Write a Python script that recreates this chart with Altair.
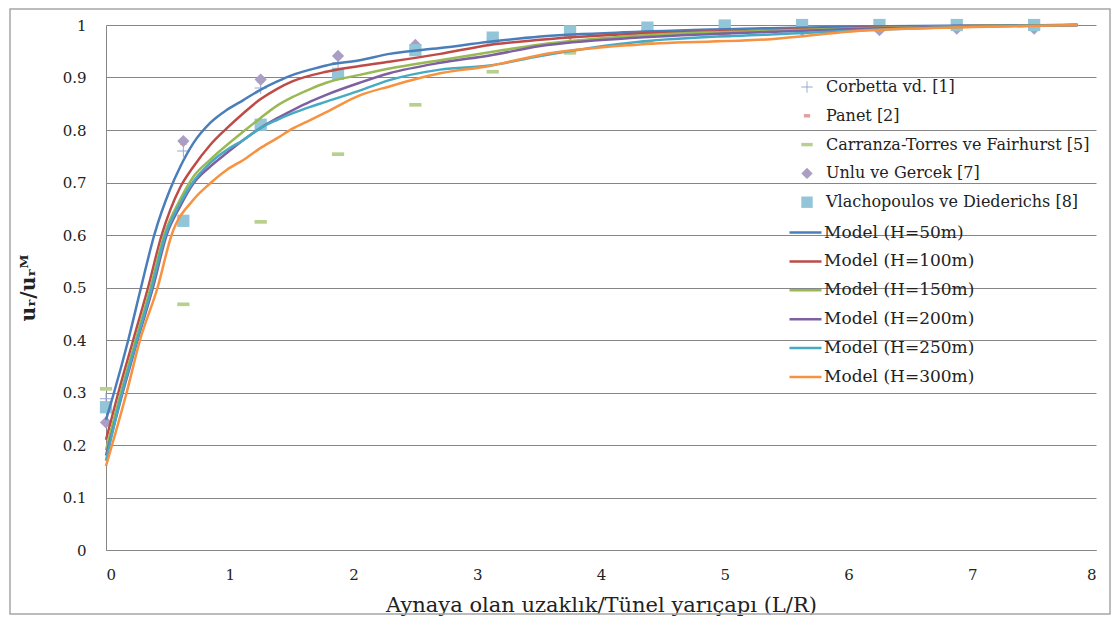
import altair as alt
import pandas as pd

FONT = "DejaVu Serif"

# ---- measured / reference data ----
ref_x = [0, 0.625, 1.25, 1.875, 2.5, 3.125, 3.75, 4.375, 5, 5.625, 6.25, 6.875, 7.5]
corbetta = [0.288, 0.76, 0.88, 0.928, 0.955, 0.975, 0.985, 0.99, 0.995, 0.997, 0.998, 0.999, 1.0]
panet = [0.275, 0.775, 0.893, 0.94, 0.96, 0.975, 0.985, 0.99, 0.995, 0.997, 0.998, 0.999, 1.0]
carranza = [0.307, 0.468, 0.625, 0.754, 0.848, 0.911, 0.947, 0.968, 0.98, 0.988, 0.993, 0.996, 0.998]
unlu = [0.243, 0.779, 0.896, 0.941, 0.962, 0.975, 0.982, 0.987, 0.99, 0.99, 0.99, 0.993, 0.993]
vlach = [0.272, 0.627, 0.81, 0.907, 0.952, 0.976, 0.988, 0.995, 0.999, 1.0, 1.0, 1.0, 1.0]

ref_names = ["Corbetta vd. [1]", "Panet [2]", "Carranza-Torres ve Fairhurst [5]",
             "Unlu ve Gercek [7]", "Vlachopoulos ve Diederichs [8]"]
ref_colors = ["#95a7d6", "#e0a09e", "#b8d08e", "#ab9ec4", "#92c5d8"]
ref_shapes = [
    "M-1,-0.08H1V0.08H-1Z M-0.08,-1H0.08V1H-0.08Z",
    "M-0.55,-0.3H0.55V0.3H-0.55Z",
    "M-1,-0.3H1V0.3H-1Z",
    "diamond",
    "square",
]

# ---- model curves ----
h50_x = [0, 0.065, 0.18, 0.283, 0.39, 0.52, 0.60, 0.706, 0.84, 0.975, 1.11, 1.244, 1.38, 1.51, 1.65, 1.78, 2.05, 2.29, 2.70, 3.10, 3.51, 4.31, 5.37, 6.1, 7.0, 7.85]
h50_y = [0.248, 0.30, 0.40, 0.50, 0.60, 0.688, 0.73, 0.775, 0.813, 0.838, 0.857, 0.876, 0.892, 0.905, 0.915, 0.923, 0.933, 0.945, 0.956, 0.968, 0.978, 0.987, 0.994, 0.997, 0.999, 1.0]

h100_x = [0, 0.10, 0.22, 0.34, 0.45, 0.598, 0.706, 0.84, 0.975, 1.11, 1.244, 1.38, 1.51, 1.78, 2.05, 2.29, 2.70, 3.10, 3.51, 4.31, 5.37, 6.1, 7.0, 7.85]
h100_y = [0.21, 0.30, 0.40, 0.50, 0.60, 0.69, 0.73, 0.771, 0.803, 0.832, 0.858, 0.878, 0.893, 0.911, 0.922, 0.93, 0.945, 0.962, 0.972, 0.984, 0.99, 0.995, 0.998, 1.0]

h150_x = [0, 0.12, 0.24, 0.36, 0.47, 0.598, 0.706, 0.84, 0.975, 1.11, 1.244, 1.38, 1.51, 1.65, 1.78, 2.05, 2.29, 2.70, 3.10, 3.51, 4.31, 5.37, 6.1, 7.0, 7.85]
h150_y = [0.19, 0.30, 0.40, 0.50, 0.60, 0.667, 0.711, 0.743, 0.771, 0.797, 0.822, 0.846, 0.863, 0.878, 0.89, 0.905, 0.917, 0.933, 0.948, 0.963, 0.98, 0.989, 0.994, 0.998, 1.0]

h200_x = [0, 0.135, 0.255, 0.38, 0.49, 0.598, 0.706, 0.84, 0.975, 1.11, 1.244, 1.38, 1.51, 1.65, 1.78, 2.05, 2.29, 2.70, 3.10, 3.51, 4.31, 5.37, 6.1, 7.0, 7.85]
h200_y = [0.18, 0.30, 0.40, 0.50, 0.60, 0.654, 0.698, 0.73, 0.756, 0.781, 0.803, 0.822, 0.838, 0.854, 0.867, 0.89, 0.908, 0.928, 0.942, 0.96, 0.976, 0.987, 0.993, 0.997, 1.0]

h250_x = [0, 0.13, 0.25, 0.37, 0.48, 0.598, 0.706, 0.84, 0.975, 1.11, 1.244, 1.38, 1.51, 1.65, 1.78, 2.05, 2.29, 2.70, 3.10, 3.51, 4.31, 5.37, 6.1, 7.0, 7.85]
h250_y = [0.17, 0.30, 0.40, 0.50, 0.60, 0.66, 0.702, 0.737, 0.762, 0.781, 0.803, 0.819, 0.832, 0.844, 0.854, 0.875, 0.895, 0.915, 0.923, 0.941, 0.968, 0.982, 0.99, 0.997, 1.0]

h300_x = [0, 0.167, 0.275, 0.417, 0.53, 0.706, 0.84, 0.975, 1.11, 1.244, 1.38, 1.51, 1.65, 1.78, 2.05, 2.29, 2.70, 3.10, 3.51, 4.31, 5.37, 6.1, 7.0, 7.85]
h300_y = [0.16, 0.30, 0.40, 0.50, 0.60, 0.667, 0.698, 0.724, 0.743, 0.765, 0.784, 0.803, 0.819, 0.834, 0.866, 0.883, 0.908, 0.922, 0.943, 0.963, 0.973, 0.989, 0.996, 1.0]

model_names = ["Model (H=50m)", "Model (H=100m)", "Model (H=150m)",
               "Model (H=200m)", "Model (H=250m)", "Model (H=300m)"]
model_colors = ["#4a7ebb", "#be4b48", "#98b954", "#7d60a0", "#46aac5", "#f69240"]

y_ticks = [0, 0.1, 0.2, 0.3, 0.4, 0.5, 0.6, 0.7, 0.8, 0.9, 1]
x_ticks = [0, 1, 2, 3, 4, 5, 6, 7, 8]

# ---- tables ----
ref_rows = []
for name, vals in zip(ref_names, [corbetta, panet, carranza, unlu, vlach]):
    for xv, yv in zip(ref_x, vals):
        ref_rows.append({"Seri": name, "x": xv, "y": yv})
ref_df = pd.DataFrame(ref_rows)

model_rows = []
for name, xs, ys in zip(model_names,
                        [h50_x, h100_x, h150_x, h200_x, h250_x, h300_x],
                        [h50_y, h100_y, h150_y, h200_y, h250_y, h300_y]):
    for i, (xv, yv) in enumerate(zip(xs, ys)):
        model_rows.append({"Model": name, "x": xv, "y": yv, "i": i})
model_df = pd.DataFrame(model_rows)

x_scale = alt.Scale(domain=[0, 8], nice=False, zero=False)
y_scale = alt.Scale(domain=[0, 1], nice=False)

x_axis = alt.Axis(values=x_ticks, format="d", grid=False, ticks=False,
                  domainColor="#868686", labelPadding=17,
                  title="Aynaya olan uzaklık/Tünel yarıçapı (L/R)",
                  titlePadding=12, titleFontSize=21)
y_axis = alt.Axis(values=y_ticks, format=".1~f", grid=True, gridColor="#868686",
                  ticks=False, domainColor="#868686", labelPadding=20,
                  title="uᵣ/uᵣᴹ", titleFontWeight="bold", titleFontSize=20,
                  titlePadding=24)

ref_legend = alt.Legend(title=None, orient="none", legendX=693, legendY=54,
                        labelOffset=11, rowPadding=12.8, symbolSize=130,
                        symbolStrokeWidth=0, labelFontSize=16)

points = alt.Chart(ref_df).mark_point(filled=True, size=150, opacity=1).encode(
    x=alt.X("x:Q", scale=x_scale, axis=x_axis),
    y=alt.Y("y:Q", scale=y_scale, axis=y_axis),
    color=alt.Color("Seri:N", scale=alt.Scale(domain=ref_names, range=ref_colors),
                    sort=ref_names, legend=ref_legend),
    shape=alt.Shape("Seri:N", scale=alt.Scale(domain=ref_names, range=ref_shapes),
                    sort=ref_names, legend=ref_legend),
    order=alt.Order("Seri:N"),
)

lines = alt.Chart(model_df).mark_line(interpolate="monotone", strokeWidth=2.5).encode(
    x=alt.X("x:Q", scale=x_scale),
    y=alt.Y("y:Q", scale=y_scale),
    color=alt.Color("Model:N", scale=alt.Scale(domain=model_names, range=model_colors),
                    sort=model_names,
                    legend=alt.Legend(title=None, orient="none", legendX=682, legendY=190,
                                      symbolType="stroke", symbolSize=1024,
                                      symbolStrokeWidth=2.5, labelOffset=1,
                                      rowPadding=2.9, labelFontSize=17)),
    order="i:Q",
)

frame = alt.Chart(pd.DataFrame({"a": [0]})).mark_rect(
    fill=None, stroke="#a6a6a6", strokeWidth=1.5
).encode(
    x=alt.value(-96), x2=alt.value(1004), y=alt.value(-16), y2=alt.value(589)
)

chart = alt.layer(points, lines, frame).resolve_scale(
    color="independent", shape="independent"
).properties(
    width=990, height=525,
    autosize=alt.AutoSizeParams(type="none"),
    padding={"left": 98, "top": 17, "right": 16, "bottom": 66},
).configure_view(stroke=None).configure_axis(
    labelFont=FONT, titleFont=FONT, labelFontSize=15, titleFontSize=18,
    labelColor="#222222", titleColor="#222222", titleFontWeight="normal",
).configure_legend(
    labelFont=FONT, labelFontSize=15, labelColor="#222222", padding=0,
    labelLimit=400,
)

chart.save("out.html", embed_options={"renderer": "svg", "actions": False})
